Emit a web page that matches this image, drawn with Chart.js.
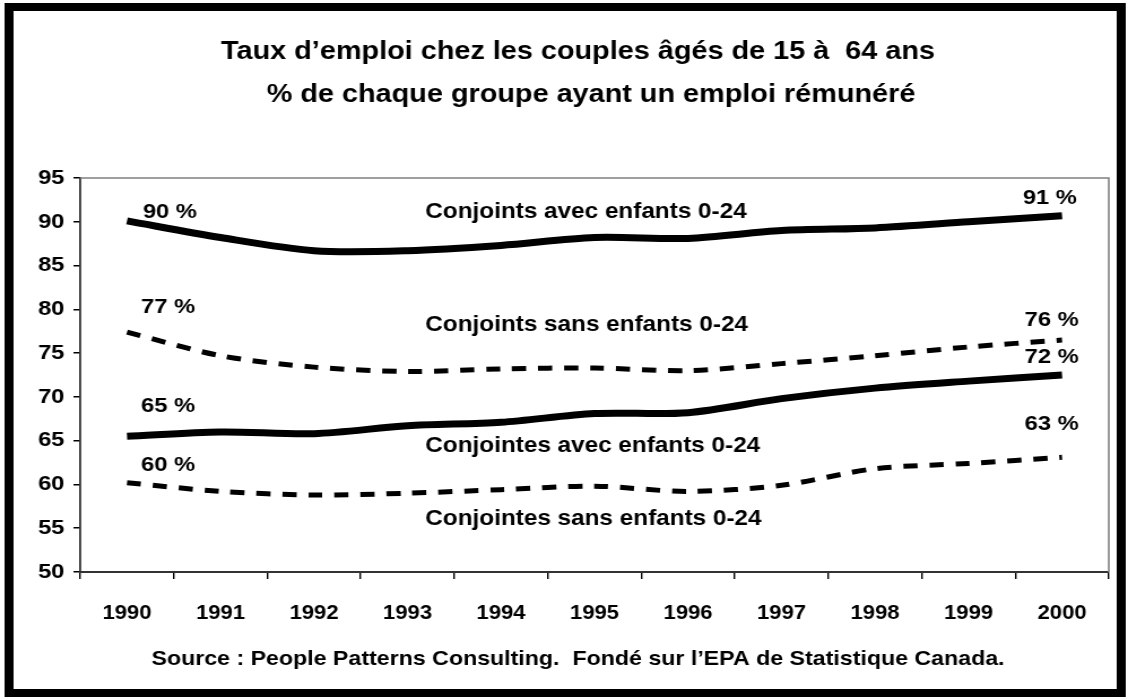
<!DOCTYPE html>
<html>
<head>
<meta charset="utf-8">
<script src="https://cdn.jsdelivr.net/npm/chart.js@4/dist/chart.umd.min.js"></script>
<style>
html,body{margin:0;padding:0;background:#fff;overflow:hidden;}
#wrap{width:1128px;height:700px;position:relative;overflow:hidden;}
#c{position:absolute;left:0;top:0;transform-origin:0 0;}
</style>
</head>
<body>
<div id="wrap"><canvas id="c" width="998" height="700"></canvas></div>
<script>
const years = ["1990","1991","1992","1993","1994","1995","1996","1997","1998","1999","2000"];
const conjointsAvec   = [90.1, 88.2, 86.7, 86.7, 87.3, 88.2, 88.1, 89.0, 89.3, 90.0, 90.7];
const conjointsSans   = [77.4, 74.7, 73.4, 72.9, 73.2, 73.3, 73.0, 73.8, 74.7, 75.7, 76.5];
const conjointesAvec  = [65.5, 66.0, 65.8, 66.7, 67.1, 68.1, 68.2, 69.8, 71.0, 71.8, 72.5];
const conjointesSans  = [60.2, 59.2, 58.8, 59.0, 59.4, 59.8, 59.2, 59.9, 61.8, 62.4, 63.1];
const yTicks = [50,55,60,65,70,75,80,85,90,95];
const titleLines = ["Taux d\u2019emploi chez les couples âgés de 15 à  64 ans", "% de chaque groupe ayant un emploi rémunéré"];
const sourceText = "Source : People Patterns Consulting.  Fondé sur l\u2019EPA de Statistique Canada.";
// annotations: [text, category index, value]
const annotations = [
  ["Conjoints avec enfants 0-24", 3.19, 91.1],
  ["Conjoints sans enfants 0-24", 3.19, 78.2],
  ["Conjointes avec enfants 0-24", 3.19, 64.4],
  ["Conjointes sans enfants 0-24", 3.19, 56.1],
  ["90 %", 0.17, 91.1],
  ["91 %", 9.58, 92.7],
  ["77 %", 0.15, 80.2],
  ["76 %", 9.6, 78.8],
  ["72 %", 9.6, 74.5],
  ["65 %", 0.15, 68.9],
  ["60 %", 0.15, 62.2],
  ["63 %", 9.6, 66.9]
];

// the reference is horizontally stretched: render narrower and stretch to 1128px
const STRETCH = 1128 / 998;
document.getElementById('c').style.transform = 'scaleX(' + STRETCH + ')';

const FONT = "'Liberation Sans', Arial, sans-serif";

const deco = {
  id: 'deco',
  beforeDraw(chart) {
    const ctx = chart.ctx;
    ctx.save();
    ctx.fillStyle = '#fff';
    ctx.fillRect(0,0,chart.width,chart.height);
    ctx.restore();
  },
  afterDraw(chart) {
    const ctx = chart.ctx;
    const a = chart.chartArea;
    const xs = chart.scales.x, ys = chart.scales.y;
    ctx.save();
    // plot border top & right (gray)
    ctx.strokeStyle = '#808080';
    ctx.lineWidth = 1.6;
    ctx.beginPath();
    ctx.moveTo(a.left, a.top); ctx.lineTo(a.right, a.top); ctx.lineTo(a.right, a.bottom);
    ctx.stroke();
    // titles
    ctx.fillStyle = '#000';
    ctx.font = "bold 25.5px " + FONT;
    ctx.textAlign = 'center';
    ctx.textBaseline = 'middle';
    ctx.fillText(titleLines[0], 578 / STRETCH, 52);
    ctx.fillText(titleLines[1], 591 / STRETCH, 95);
    // source
    ctx.font = "bold 20.5px " + FONT;
    ctx.fillText(sourceText, 578 / STRETCH, 659);
    // annotations
    ctx.textAlign = 'left';
    annotations.forEach(([t, xi, v]) => {
      ctx.font = (t.indexOf('%') >= 0 ? "bold 21px " : "bold 21.5px ") + FONT;
      ctx.fillText(t, xs.getPixelForValue(xi), ys.getPixelForValue(v));
    });
    // outer frame
    ctx.strokeStyle = '#000';
    ctx.lineWidth = 8;
    ctx.strokeRect(8, 7, 984, 686);
    ctx.restore();
  }
};

new Chart(document.getElementById('c'), {
  type: 'line',
  data: {
    labels: years,
    datasets: [
      {label: 'Conjoints avec enfants 0-24', data: conjointsAvec, borderColor: '#000', borderWidth: 7, tension: 0.3, pointRadius: 0},
      {label: 'Conjoints sans enfants 0-24', data: conjointsSans, borderColor: '#000', borderWidth: 5, borderDash: [12.5, 10.5], tension: 0.3, pointRadius: 0},
      {label: 'Conjointes avec enfants 0-24', data: conjointesAvec, borderColor: '#000', borderWidth: 7, tension: 0.3, pointRadius: 0},
      {label: 'Conjointes sans enfants 0-24', data: conjointesSans, borderColor: '#000', borderWidth: 5, borderDash: [12.5, 10.5], tension: 0.3, pointRadius: 0}
    ]
  },
  options: {
    responsive: false,
    animation: false,
    events: [],
    layout: {padding: {top: 178, left: 10, right: 17, bottom: 0}},
    plugins: {legend: {display: false}, title: {display: false}, tooltip: {enabled: false}},
    scales: {
      x: {
        offset: true,
        grid: {offset: true, drawOnChartArea: false, drawTicks: true, tickLength: 7, color: '#000', lineWidth: 1.4},
        border: {color: '#333', width: 2},
        ticks: {color: '#000', font: {family: FONT, size: 19.5, weight: 'bold'}, padding: 23, maxRotation: 0, autoSkip: false},
        afterFit(s) { s.height = 128; }
      },
      y: {
        min: 50, max: 95,
        afterBuildTicks(s) { s.ticks = yTicks.map(v => ({value: v})); },
        grid: {drawOnChartArea: false, drawTicks: true, tickLength: 6, color: '#000', lineWidth: 1.5},
        border: {color: '#333', width: 1.8},
        ticks: {color: '#000', font: {family: FONT, size: 21, weight: 'bold'}, padding: 8},
        afterFit(s) { s.width = 61; }
      }
    }
  },
  plugins: [deco]
});
</script>
</body>
</html>
